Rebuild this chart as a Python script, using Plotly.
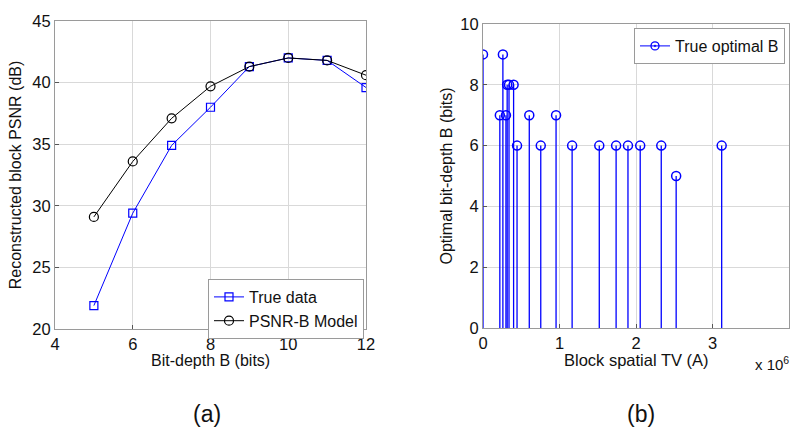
import plotly.graph_objects as go

# Left panel data
bit_depth = [5, 6, 7, 8, 9, 10, 11, 12]
psnr_true = [21.9, 29.4, 34.9, 38.0, 41.3, 42.0, 41.8, 39.6]
psnr_model = [29.1, 33.6, 37.1, 39.7, 41.3, 42.0, 41.8, 40.6]

# Right panel data (TV in units of 1e6)
tv = [0.0, 0.22, 0.26, 0.30, 0.316, 0.34, 0.40, 0.445, 0.605, 0.755, 0.955, 1.165, 1.52, 1.74, 1.895, 2.055, 2.33, 2.525, 3.12]
opt_b = [9, 7, 9, 7, 8, 8, 8, 6, 7, 6, 7, 6, 6, 6, 6, 6, 6, 5, 6]

BLUE = "#0000ff"
FONT = "Liberation Sans, Arial, sans-serif"

fig = go.Figure()

fig.add_trace(go.Scatter(x=bit_depth, y=psnr_true, mode="lines+markers", name="True data",
                         line=dict(color=BLUE, width=1),
                         marker=dict(symbol="square-open", size=8, color=BLUE, line=dict(width=1.2)),
                         xaxis="x", yaxis="y", legend="legend"))
fig.add_trace(go.Scatter(x=bit_depth, y=psnr_model, mode="lines+markers", name="PSNR-B Model",
                         line=dict(color="black", width=1),
                         marker=dict(symbol="circle-open", size=9, color="black", line=dict(width=1.2)),
                         xaxis="x", yaxis="y", legend="legend"))

# stems
sx, sy = [], []
for xv, yv in zip(tv, opt_b):
    sx += [xv, xv, None]
    sy += [0, yv, None]
fig.add_trace(go.Scatter(x=sx, y=sy, mode="lines", line=dict(color=BLUE, width=1.3),
                         showlegend=False, xaxis="x2", yaxis="y2", hoverinfo="skip"))
fig.add_trace(go.Scatter(x=tv, y=opt_b, mode="markers", showlegend=False,
                         marker=dict(symbol="circle-open", size=9, color=BLUE, line=dict(width=1.5)),
                         xaxis="x2", yaxis="y2"))
fig.add_trace(go.Scatter(x=[None], y=[None], mode="lines+markers", name="True optimal B",
                         line=dict(color=BLUE, width=1),
                         marker=dict(symbol="circle-open-dot", size=8, color=BLUE, line=dict(width=1.3)),
                         xaxis="x2", yaxis="y2", legend="legend2"))

axis_common = dict(showline=True, linecolor="#9a9a9a", linewidth=1, mirror=True,
                   showgrid=True, gridcolor="#d9d9d9", gridwidth=1, zeroline=False,
                   ticks="inside", ticklen=4, tickcolor="#555", automargin=False,
                   tickfont=dict(family=FONT, size=16.5, color="#111"))

def ann(text, x, y, size, **kw):
    return dict(text=text, x=x / 791, y=1 - y / 431, xref="paper", yref="paper",
                xanchor=kw.pop("xanchor", "center"), yanchor="middle", showarrow=False,
                font=dict(family=FONT, size=size, color="#111"), **kw)

fig.update_layout(
    width=791, height=431,
    margin=dict(l=0, r=0, t=0, b=0, autoexpand=False),
    paper_bgcolor="white", plot_bgcolor="white",
    font=dict(family=FONT, color="#111"),
    xaxis=dict(domain=[55/791, 366/791], range=[4, 12], dtick=2, anchor="y", **axis_common),
    yaxis=dict(domain=[1-329/431, 1-21/431], range=[20, 45], dtick=5, anchor="x",
               title=dict(text="Reconstructed block PSNR (dB)", font=dict(size=16), standoff=6), **axis_common),
    xaxis2=dict(domain=[483/791, 789/791], range=[0, 4], dtick=1, anchor="y2", **axis_common),
    yaxis2=dict(domain=[1-328/431, 1-24/431], range=[0, 10], dtick=2, anchor="x2",
                title=dict(text="Optimal bit-depth B (bits)", font=dict(size=16), standoff=3), **axis_common),
    legend=dict(x=364/791, y=1-279/431, xanchor="right", yanchor="top",
                bgcolor="white", bordercolor="#9a9a9a", borderwidth=1,
                font=dict(family=FONT, size=16, color="#111"), tracegroupgap=0, itemwidth=30),
    legend2=dict(x=785/791, y=1-28/431, xanchor="right", yanchor="top",
                 bgcolor="white", bordercolor="#9a9a9a", borderwidth=1,
                 font=dict(family=FONT, size=16, color="#111"), itemwidth=30),
    annotations=[
        ann("Bit-depth B (bits)", 210, 360, 16),
        ann("Block spatial TV (A)", 636, 360, 16.5),
        ann("x 10<sup>6</sup>", 791, 363, 15, xanchor="right"),
        ann("(a)", 207, 414, 23),
        ann("(b)", 641, 414, 23),
    ],
)

fig.write_html("out.html", config={"displayModeBar": False},
               post_script="document.body.style.margin='0';document.body.style.overflow='hidden';")
